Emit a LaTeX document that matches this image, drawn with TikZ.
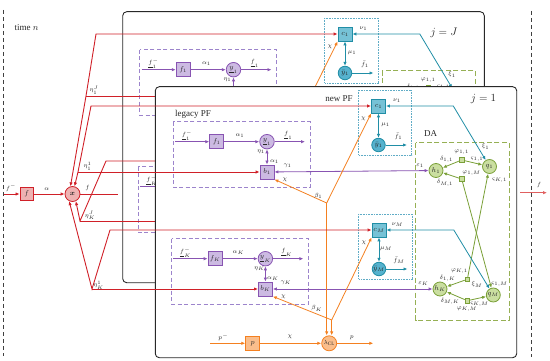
\documentclass[tikz,border=0pt]{standalone}
\usepackage{fontspec}
\setmainfont{Liberation Serif}
\usepackage{bm}
\usetikzlibrary{arrows.meta}

\definecolor{redL}{RGB}{208,32,40}
\definecolor{redO}{RGB}{224,96,96}
\definecolor{redF}{RGB}{238,178,178}
\definecolor{purL}{RGB}{136,84,178}
\definecolor{purF}{RGB}{204,186,226}
\definecolor{purB}{RGB}{156,132,204}
\definecolor{tealL}{RGB}{32,142,166}
\definecolor{tealF}{RGB}{118,194,214}
\definecolor{tealC}{RGB}{86,178,206}
\definecolor{tealB}{RGB}{96,172,198}
\definecolor{grnL}{RGB}{122,160,56}
\definecolor{grnF}{RGB}{202,222,160}
\definecolor{grnB}{RGB}{150,176,84}
\definecolor{orL}{RGB}{244,128,32}
\definecolor{orF}{RGB}{250,190,140}
\definecolor{txt}{RGB}{40,40,40}
\definecolor{panelL}{RGB}{40,40,40}

\tikzset{
 >={Latex[length=4pt,width=3.4pt]},
 lab/.style={font=\fontsize{6}{6}\selectfont, inner sep=0pt, text=txt},
 txtlab/.style={font=\fontsize{9}{9}\selectfont, inner sep=0pt, text=txt},
 nodef/.style={font=\fontsize{7}{7}\selectfont, inner sep=0pt, text=txt},
 pbox/.style={nodef, draw=purL, fill=purF, line width=0.8pt, minimum size=14pt},
 pcirc/.style={nodef, circle, draw=purL, fill=purF, line width=0.8pt, minimum size=14.5pt},
 cbox/.style={nodef, draw=tealL, fill=tealF, line width=0.8pt, minimum size=14pt},
 ycirc/.style={nodef, circle, draw=tealL, fill=tealC, line width=0.8pt, minimum size=13.5pt},
 gcirc/.style={nodef, circle, draw=grnL, fill=grnF, line width=0.8pt, minimum size=14pt},
 phisq/.style={draw=grnL, fill=grnF, line width=0.6pt, minimum size=4.5pt, inner sep=0pt},
 rbox/.style={nodef, draw=redL, fill=redF, line width=0.8pt, minimum size=13.5pt},
 rcirc/.style={nodef, circle, draw=redL, fill=redF, line width=0.8pt, minimum size=15pt},
 obox/.style={nodef, draw=orL, fill=orF, line width=0.8pt, minimum size=14pt},
 ocirc/.style={nodef, circle, draw=orL, fill=orF, line width=0.8pt, minimum size=15pt},
 parr/.style={draw=purL, line width=0.8pt},
 tarr/.style={draw=tealL, line width=0.8pt},
 garr/.style={draw=grnL, line width=0.8pt},
 oarr/.style={draw=orL, line width=0.8pt},
 rarr/.style={draw=redL, line width=0.9pt},
 legbox/.style={draw=purB, line width=0.8pt, dash pattern=on 4pt off 2.5pt},
 npbox/.style={draw=tealB, line width=0.7pt, dash pattern=on 0.8pt off 0.8pt},
 dabox/.style={draw=grnB, line width=0.8pt, dash pattern=on 5pt off 2.5pt},
 panel/.style={draw=panelL, fill=white, line width=0.9pt, rounded corners=4pt},
 sep/.style={draw=black!75, line width=0.7pt, dash pattern=on 4pt off 3pt},
}

% legacy PF part: #1 prefix, #2 index
\newcommand{\legacypart}[2]{%
 \draw[legbox] (173.3,121.7) rectangle (310,187.3);
 \coordinate (#1fin#2) at (175,141.7);
 \coordinate (#1fout#2) at (305,141.7);
 \node[pbox] (#1f#2) at (216.7,141.7) {$f_{#2}$};
 \node[pcirc] (#1y#2) at (267,141.7) {$\underline{y}_{#2}$};
 \node[pbox] (#1b#2) at (267,172) {$b_{#2}$};
 \draw[parr,->] (#1fin#2) -- (#1f#2);
 \draw[parr,->] (#1f#2) -- (#1y#2);
 \draw[parr,->] (#1y#2) -- (#1fout#2);
 \draw[parr,<->] (#1y#2) -- (#1b#2);
 \node[lab] at (187,135.5) {$\underline{f}_{#2}^{-}$};
 \node[lab] at (240,136) {$\alpha_{#2}$};
 \node[lab] at (288.3,135.5) {$\underline{f}_{#2}$};
 \node[lab] at (261,151.5) {$\eta_{#2}$};
 \node[lab] at (274.5,161.5) {$\alpha_{#2}$};
 \node[lab] at (287.5,166) {$\gamma_{#2}$};
 \node[lab] at (285,179.5) {$\chi$};
}

% new PF part: #1 prefix, #2 index
\newcommand{\newpfpart}[2]{%
 \draw[npbox] (358.3,90) rectangle (411.7,155);
 \node[cbox] (#1c#2) at (378.5,106) {$c_{#2}$};
 \node[ycirc] (#1yb#2) at (378.5,145) {$\bar{y}_{#2}$};
 \coordinate (#1fbo#2) at (407,145);
 \draw[tarr,<->] (#1c#2) -- (#1yb#2);
 \draw[tarr,->] (#1yb#2) -- (#1fbo#2);
 \node[lab] at (397,101) {$\nu_{#2}$};
 \node[lab] at (385.5,125) {$\mu_{#2}$};
 \node[lab] at (398.5,136.5) {$\bar{f}_{#2}$};
 \node[lab] at (363.5,118.5) {$\chi$};
}

% whole panel content: #1 prefix
\newcommand{\panelcontent}[1]{%
 \legacypart{#1}{1}
 \begin{scope}[shift={(-1.6,117)}]\legacypart{#1}{K}\end{scope}
 \newpfpart{#1}{1}
 \begin{scope}[shift={(0.5,124)}]\newpfpart{#1}{M}\end{scope}
 % DA
 \draw[dabox] (415.7,142.7) rectangle (509,320);
 \node[gcirc] (#1h1) at (436,170.5) {$h_1$};
 \node[gcirc] (#1q1) at (489.5,166.5) {$q_1$};
 \node[phisq] (#1p11) at (461.7,160) {};
 \node[phisq] (#1p1M) at (461.7,179) {};
 \node[gcirc] (#1hK) at (440,289) {$h_K$};
 \node[gcirc] (#1qM) at (493.3,295) {$q_M$};
 \node[phisq] (#1pK1) at (467.3,279.3) {};
 \node[phisq] (#1pKM) at (467.3,300.7) {};
 \draw[garr,->] (#1p11) -- (#1h1);
 \draw[garr,->] (#1p11) -- (#1q1);
 \draw[garr,->] (#1p1M) -- (#1h1);
 \draw[garr,->] (#1p1M) -- (#1qM);
 \draw[garr,->] (#1pK1) -- (#1hK);
 \draw[garr,->] (#1pK1) -- (#1q1);
 \draw[garr,->] (#1pKM) -- (#1hK);
 \draw[garr,->] (#1pKM) -- (#1qM);
 \node[lab] at (420,166) {$\varepsilon_1$};
 \node[lab] at (461.7,152.5) {$\varphi_{1,1}$};
 \node[lab] at (446.5,159) {$\delta_{1,1}$};
 \node[lab] at (477,159) {$\varsigma_{1,1}$};
 \node[lab] at (485.5,146.5) {$\xi_1$};
 \node[lab] at (471.5,173.5) {$\varphi_{1,M}$};
 \node[lab] at (445,183) {$\delta_{M,1}$};
 \node[lab] at (499.5,180) {$\varsigma_{K,1}$};
 \node[lab] at (459.5,271.5) {$\varphi_{K,1}$};
 \node[lab] at (447.5,278.5) {$\delta_{1,K}$};
 \node[lab] at (477,284.5) {$\xi_M$};
 \node[lab] at (499.5,284.5) {$\varsigma_{1,M}$};
 \node[lab] at (423.5,284) {$\varepsilon_K$};
 \node[lab] at (450,301.5) {$\delta_{M,K}$};
 \node[lab] at (467,309) {$\varphi_{K,M}$};
 \node[lab] at (479.5,304.5) {$\varsigma_{K,M}$};
 % teal links new PF -> DA
 \coordinate (#1tc1) at (453.3,106);
 \coordinate (#1tcM) at (453.8,230);
 \draw[tarr,<->] (#1c1) -- (#1tc1) -- (#1q1);
 \draw[tarr,<->] (#1cM) -- (#1tcM) -- (#1qM);
 % purple links legacy -> DA
 \draw[parr,<->] (#1b1) -- (#1h1);
 \draw[parr,<->] (#1bK) -- (#1hK);
 % orange clock part
 \node[obox] (#1p) at (252.7,343.3) {$p$};
 \node[ocirc] (#1lam) at (329.2,343.3) {\fontsize{6}{6}\selectfont$\lambda_{\mathrm{CL}}$};
 \coordinate (#1pin) at (210,343.3);
 \coordinate (#1pout) at (373.3,343.3);
 \coordinate (#1bet1) at (326.7,203);
 \coordinate (#1betK) at (331.7,320);
 \draw[oarr,->] (#1pin) -- (#1p);
 \draw[oarr,->,line width=1.4pt] (#1p) -- (#1lam);
 \draw[oarr,->] (#1lam) -- (#1pout);
 \draw[oarr,->] (#1bet1) -- (#1b1.south east);
 \draw[oarr,->] (#1bet1) -- (#1c1.south west);
 \draw[oarr,->] (#1bet1) -- (#1bet1 |- #1lam.north);
 \draw[oarr,->] (#1betK) -- (#1bK.south east);
 \draw[oarr,->] (#1betK) -- (#1cM.south west);
 \draw[oarr,->] (#1betK) -- (#1betK |- #1lam.north);
 \node[lab] at (223.3,337.5) {$p^{-}$};
 \node[lab] at (290,337) {$\chi$};
 \node[lab] at (351.7,337.5) {$p$};
 \node[lab] at (318.3,196) {$\beta_1$};
 \node[lab] at (316.7,308.3) {$\beta_K$};
}

\begin{document}
\begin{tikzpicture}[x=1pt,y=-1pt]
\useasboundingbox (0,0) rectangle (550,361);

% time separators
\draw[sep] (3.5,10) -- (3.5,356);
\draw[sep] (531.7,11) -- (531.7,357);
\node[txtlab, anchor=west] (time) at (14.5,28) {time $n$};

% left part
\coordinate (fin) at (3.5,194);
\node[rbox] (fb) at (26.7,194) {$f$};
\node[rcirc] (x) at (72.5,194) {$\bm{x}$};
\coordinate (fo) at (118.3,194);
\draw[rarr,->] (fin) -- (fb);
\draw[rarr,->] (fb) -- (x);
\draw[rarr] (x) -- (fo);
\node[lab] at (11,188) {$f^{-}$};
\node[lab] at (46.7,189) {$\alpha$};
\node[lab] at (87.5,188) {$f$};

% panel j = J
\draw[panel] (122.7,11.7) rectangle (484.3,282.7);
\begin{scope}[shift={(-33.5,-72)}]
 \panelcontent{J}
\end{scope}
\node[font=\fontsize{11}{11}\selectfont, text=txt] (jJ) at (444,33) {$j=J$};

% red links to panel J
\coordinate (rA1) at (96,34);
\coordinate (rA2) at (86,96);
\coordinate (rC1) at (106,161);
\coordinate (rC2) at (80,221);
\draw[rarr,<->] (x.105) -- (rA2) -- (rA1) -- (Jc1);
\draw[rarr,->] (rA2) -- (rA2 -| Jb1.west);
\draw[rarr,<->] (x.295) -- (rC2) -- (rC1) -- (rC1 -| JcM.west);
\draw[rarr,->] (rC2) -- (rC2 -| JbK.west);

% panel j = 1
\draw[panel] (155.3,86.7) rectangle (516.7,357.7);
\panelcontent{O}
\node[font=\fontsize{11}{11}\selectfont, text=txt] (j1) at (483.5,99) {$j=1$};
\node[txtlab, anchor=west] (legPF) at (175,114) {legacy PF};
\node[txtlab] (newPF) at (339,99) {new PF};
\node[txtlab] (DA) at (430.5,134) {DA};

% red links to panel 1
\coordinate (rB1) at (91,106);
\coordinate (rB2) at (78,172);
\coordinate (rD1) at (110,230);
\coordinate (rD2) at (92,289);
\draw[rarr,<->] (x.75) -- (rB2) -- (rB1) -- (Oc1);
\draw[rarr,->] (rB2) -- (Ob1);
\draw[rarr,<->] (x.245) -- (rD2) -- (rD1) -- (OcM);
\draw[rarr,->] (rD2) -- (ObK);

\node[lab] at (94,90) {$\eta_1^{J}$};
\node[lab] at (87.5,166) {$\eta_1^{1}$};
\node[lab] at (90,215.5) {$\eta_K^{J}$};
\node[lab] at (98.5,285) {$\eta_K^{1}$};

% output
\coordinate (ro1) at (520,192.7);
\coordinate (ro2) at (547,192.7);
\draw[draw=redO, line width=0.9pt, ->] (ro1) -- (ro2);
\node[lab] at (539,185) {$f$};
\end{tikzpicture}
\end{document}
